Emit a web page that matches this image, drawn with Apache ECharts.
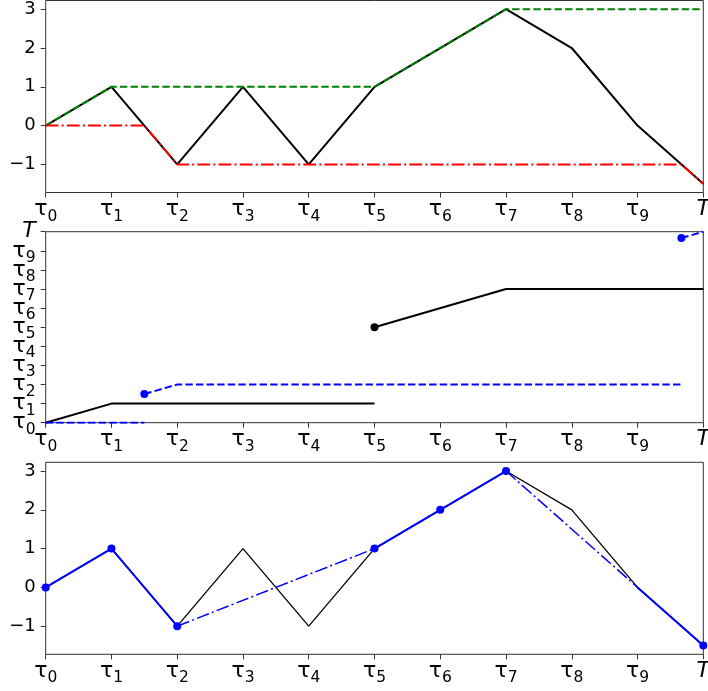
<!DOCTYPE html>
<html>
<head>
<meta charset="utf-8">
<script src="https://cdn.jsdelivr.net/npm/echarts@6/dist/echarts.min.js"></script>
<style>html,body{margin:0;padding:0;background:#fff;}#c{width:708px;height:691px;}</style>
</head>
<body>
<div id="c"></div>
<script>
// ---- data ----
const tickLabels = ['τ0','τ1','τ2','τ3','τ4','τ5','τ6','τ7','τ8','τ9','T'];
const tickEven = [0, 2, 4, 6, 8, 10];
const tickOdd = [1, 3, 5, 7, 9];
const valueTicks = [-1, 0, 1, 2, 3];

// panel 1: path, running max, running min
const pathT = [0, 1, 2, 3, 4, 5, 6, 7, 8, 9, 10];
const pathX = [0, 1, -1, 1, -1, 1, 2, 3, 2, 0, -1.5];
const maxT = [0, 1, 5, 7, 10];
const maxX = [0, 1, 1, 3, 3];
const minT = [0, 1.5, 2, 9.667, 10];
const minX = [0, 0, -1, -1, -1.5];

// panel 2: time indices
const lastMaxSeg1T = [0, 1, 5];
const lastMaxSeg1V = [0, 1, 1];
const lastMaxSeg2T = [5, 7, 10];
const lastMaxSeg2V = [5, 7, 7];
const lastMaxDotT = [5];
const lastMaxDotV = [5];
const lastMinSeg1T = [0, 1.5];
const lastMinSeg1V = [0, 0];
const lastMinSeg2T = [1.5, 2, 9.667];
const lastMinSeg2V = [1.5, 2, 2];
const lastMinSeg3T = [9.667, 10];
const lastMinSeg3V = [9.667, 10];
const lastMinDotT = [1.5, 9.667];
const lastMinDotV = [1.5, 9.667];

// panel 3: skeleton (indices into path)
const keptIdx = [0, 1, 2, 5, 6, 7, 10];
const solidSegIdx = [[0, 1, 2], [5, 6, 7], [9, 10]];
const dashSegIdx = [[2, 5], [7, 9]];

// ---- helpers ----
const FONT = 'DejaVu Sans';
const zip = (a, b) => a.map((v, i) => [v, b[i]]);
const fromIdx = idx => idx.map(i => [pathT[i], pathX[i]]);
const rich = {
  t: {fontFamily: FONT, fontSize: 22, lineHeight: 30, color: '#000'},
  s: {fontFamily: FONT, fontSize: 15.5, lineHeight: 15.4, verticalAlign: 'bottom', color: '#000'},
  T: {fontFamily: FONT, fontSize: 22, fontStyle: 'italic', lineHeight: 30, color: '#000'}
};
function tauFmt(v) {
  const lab = tickLabels[Math.round(v)];
  if (lab === undefined) return '';
  if (lab.charAt(0) === 'τ') return '{t|τ}{s|' + lab.slice(1) + '}';
  return '{T|' + lab + '}';
}
function numFmt(v) { return v < 0 ? '\u2212' + (-v) : String(v); }
const axisCol = '#333';
function tauAxis(gi, isX, labelVals, showTicks) {
  const ax = {
    type: 'value', gridIndex: gi, min: 0, max: 10, interval: 1,
    axisLine: {show: false, onZero: false},
    axisTick: {show: showTicks !== false, inside: false, length: 5, lineStyle: {color: axisCol, width: 1}},
    splitLine: {show: false},
    axisLabel: {formatter: tauFmt, rich: rich, margin: isX ? 2 : 10, color: '#000',
      showMinLabel: true, showMaxLabel: true, hideOverlap: false}
  };
  if (labelVals) { ax.axisLabel.customValues = labelVals; ax.position = 'left'; }
  return ax;
}
function valAxis(gi) {
  return {
    type: 'value', gridIndex: gi, min: -1.725, max: 3.225,
    axisLine: {show: false, onZero: false},
    axisTick: {show: true, inside: false, length: 5, customValues: valueTicks, lineStyle: {color: axisCol, width: 1}},
    splitLine: {show: false},
    axisLabel: {customValues: valueTicks, formatter: numFmt, margin: 10, color: '#000', fontFamily: FONT, fontSize: 18}
  };
}
const dashed = [7.4, 3.2];
const dashDot = [12.8, 3.2, 2, 3.2];
function line(gi, data, color, width, type, z) {
  return {type: 'line', xAxisIndex: gi, yAxisIndex: gi, data: data, symbol: 'none',
    lineStyle: {color: color, width: width, type: type || 'solid'}, z: z || 2, silent: true, animation: false};
}
function dots(gi, data, color, size) {
  return {type: 'scatter', xAxisIndex: gi, yAxisIndex: gi, data: data, symbol: 'circle', symbolSize: size,
    itemStyle: {color: color, opacity: 1}, z: 5, silent: true, animation: false};
}

const series = [];
// panel 1
series.push(line(0, zip(pathT, pathX), '#000', 2, 'solid', 2));
series.push(line(0, zip(maxT, maxX), '#008000', 2, dashed, 3));
series.push(line(0, zip(minT, minX), '#ff0000', 2, dashDot, 3));
// panel 2
series.push(line(1, zip(lastMaxSeg1T, lastMaxSeg1V), '#000', 2, 'solid', 2));
series.push(line(1, zip(lastMaxSeg2T, lastMaxSeg2V), '#000', 2, 'solid', 2));
series.push(dots(1, zip(lastMaxDotT, lastMaxDotV), '#000', 8));
series.push(line(1, zip(lastMinSeg1T, lastMinSeg1V), '#0000ff', 2, dashed, 3));
series.push(line(1, zip(lastMinSeg2T, lastMinSeg2V), '#0000ff', 2, dashed, 3));
series.push(line(1, zip(lastMinSeg3T, lastMinSeg3V), '#0000ff', 2, dashed, 3));
series.push(dots(1, zip(lastMinDotT, lastMinDotV), '#0000ff', 8));
// panel 3
series.push(line(2, zip(pathT, pathX), '#000', 1.3, 'solid', 2));
solidSegIdx.forEach(s => series.push(line(2, fromIdx(s), '#0000ff', 2, 'solid', 3)));
dashSegIdx.forEach(s => series.push(line(2, fromIdx(s), '#0000ff', 1.5, dashDot, 3)));
series.push(dots(2, fromIdx(keptIdx), '#0000ff', 8));

const gridBase = {show: true, borderColor: axisCol, borderWidth: 1, backgroundColor: 'transparent',
  containLabel: false, outerBoundsMode: 'none'};
const option = {
  backgroundColor: '#fff',
  animation: false,
  grid: [
    Object.assign({left: 45.7, right: 4.7, top: 0.5, height: 192}, gridBase),
    Object.assign({left: 45.7, right: 4.7, top: 231.7, height: 191}, gridBase),
    Object.assign({left: 45.7, right: 4.7, top: 462.3, height: 192}, gridBase)
  ],
  xAxis: [tauAxis(0, true), tauAxis(1, true), tauAxis(2, true)],
  yAxis: [valAxis(0), tauAxis(1, false, tickEven, true), valAxis(2), tauAxis(1, false, tickOdd, false)],
  series: series
};
const chart = echarts.init(document.getElementById('c'), null, {renderer: 'canvas'});
chart.setOption(option);
</script>
</body>
</html>
